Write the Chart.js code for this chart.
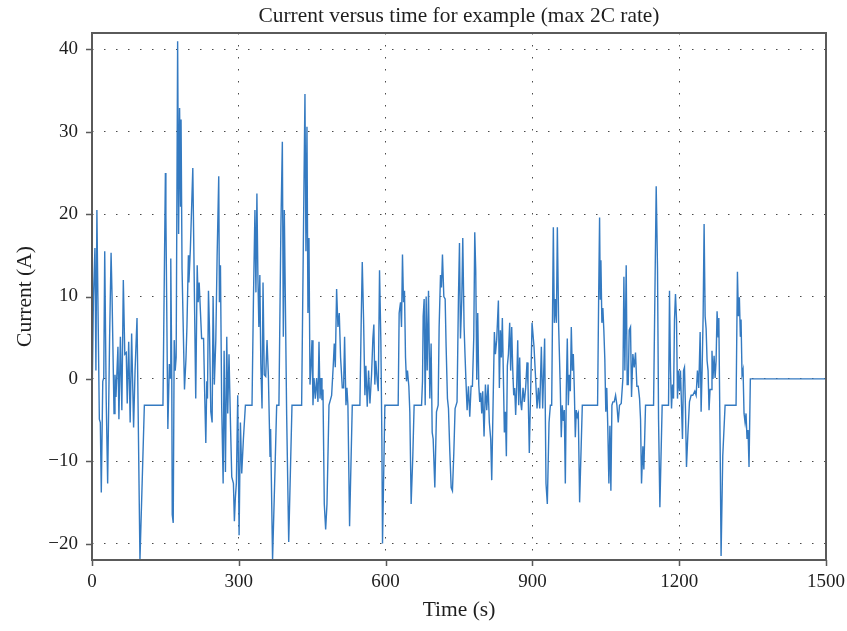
<!DOCTYPE html>
<html>
<head>
<meta charset="utf-8">
<script src="https://cdn.jsdelivr.net/npm/chart.js@4.4.1/dist/chart.umd.min.js"></script>
<style>
  html, body { margin: 0; padding: 0; background: #fff; }
  canvas { display: block; }
</style>
</head>
<body>
<canvas id="graph" width="847" height="631"></canvas>
<script>
// time (s) and current (A)
const tSec = [
  0, 3, 6, 8, 10, 12, 15, 17, 19, 22, 24, 26, 29, 32, 36, 39, 41, 45, 47, 49, 53, 55, 58, 61, 64, 67, 70, 72, 75, 78, 81, 85, 88, 92, 98, 107,
  145, 150, 151, 155, 158, 160, 161, 163, 164, 166, 168, 170, 172, 175, 177, 179, 181, 182, 184, 189, 192, 194, 197, 198, 201, 206, 212, 215, 217, 219,
  224, 228, 230.5, 232.6, 234.6, 236, 238, 240, 242.8, 245.5, 247.5, 250, 253, 255.7, 259, 260.4, 262.5, 265, 268, 270, 272.7, 275.4, 277.4, 280, 283, 285.6, 289, 291, 293, 295, 297.8, 300.6, 303.3, 306, 309.4, 313.5, 327,
  330, 333, 335, 337, 339, 341, 343, 345, 347.5, 349.5, 352, 355, 357.7, 360.4, 363.8, 365, 369, 374, 377.4, 382, 386, 389, 391, 393, 397.8, 402, 408.7, 428.4, 431.8, 435.2, 437.2, 439.3, 441.3, 443.4,
  445.5, 447.5, 449.6, 451.6, 453.7, 456.4, 459, 461.8, 463.9, 466, 468, 470, 472, 474.7, 477.5, 480.2, 484.3, 489.7, 493, 495.1, 497.2, 499.9, 502.6, 505.3, 508, 511.5, 514.2, 516.2, 519, 521, 523, 526.4, 531.9, 547.5,
  550.2, 552.3, 555, 557.7, 559.7, 562.5, 565.2, 568, 571.3, 574, 576, 578, 580, 582.9, 585, 587.6, 590.3, 592.4, 593.7, 598.5, 625.7,
  627.7, 630.5, 632.5, 634.5, 636.6, 638.6, 640.7, 642.7, 644.7, 647.5, 649.5, 652.2, 655.6, 658.3, 673.5,
  675.4, 676.8, 678.8, 680.9, 682.9, 685, 687.7, 690.4, 693, 695.2, 697.2, 700.6, 704, 707.4, 709.4, 712.2, 714.2, 716.2, 719, 721.7, 723.7, 726.4, 728.5, 731.2, 734, 736.6, 739.4, 742, 746,
  748.9, 751, 753, 755.7, 757.7, 760.4, 762.5, 764.5, 766.6, 769.3, 772, 774.7, 777.4, 780.2, 782.2, 784.2, 786.3, 788.3, 790.4, 792.4, 794.4, 796.5, 798.5, 801.2, 804, 806.7, 809.4, 812, 814.8, 816.9, 819.6,
  822.3, 824.4, 827, 830.5, 832.5, 834.6, 836.6, 838.6, 840.7, 842.7, 844.8, 846.8, 848.8, 851, 853.6, 855.6, 857.7, 859.7, 861.8, 863.8, 865.8, 867.9, 870, 872, 874, 876, 878, 880.8, 883.5, 886.2, 889, 891, 893.7,
  899.3, 903.3, 906, 909.5, 912.2, 915, 918.3, 921, 925, 927.8, 930.5, 934, 936.7, 939.4,
  942.8, 944.8, 946.9, 949, 951, 953.7, 957, 959, 961, 963.2, 965.2, 967.3, 969.3, 971.3, 973.4, 975.4, 977.5, 979.5, 981.5, 983.6, 985.6, 987.7, 989.7, 991.7, 993.8, 996.5, 1002, 1033.2,
  1035.3, 1037.3, 1038.7, 1040, 1042, 1044, 1046, 1048, 1050, 1052, 1054, 1056.3, 1058.4, 1060.4, 1062.5, 1064.5, 1067.2, 1070, 1072.7, 1075.4, 1078, 1081.5, 1085, 1087, 1089, 1091.7, 1093.7, 1095.8, 1097.8, 1100.5, 1102.6, 1105.3, 1108, 1110.7, 1113.5, 1116.2, 1119,
  1121, 1123, 1125.8, 1127.8, 1131.2, 1147.6, 1150.3, 1153, 1155.7, 1157.8, 1160.5, 1165.2, 1178.2,
  1180.2, 1182.2, 1184.3, 1186.3, 1188.4, 1190.4, 1192.4, 1194.5, 1196.5, 1198.6, 1200.6, 1202.6, 1204.7, 1206.7, 1208.8, 1210.8, 1212.8, 1214.9, 1217.6, 1221, 1224.4, 1227.8, 1231.9, 1234.6, 1237.3, 1240, 1242.8, 1244.8, 1246.8, 1248.9, 1250.9, 1253, 1255, 1257, 1259, 1261, 1263, 1265, 1267, 1269, 1271.3, 1273.4, 1275.4, 1277.4, 1279.5, 1281, 1283.6, 1285.6, 1289, 1293.8, 1316.2,
  1319, 1321, 1323, 1325, 1326.4, 1328.4, 1330.5, 1332.5, 1334.6, 1336.6, 1338.6, 1340.7, 1342.7, 1345.4, 1500
];
const currentA = [
  -3.2, 10, 15.9, 1, 20.5, 10, -4.9, -5.3, -13.8, -0.3, 0.1, 15.5, -2.4, -12.7, 5.1, 15.3, 10, -4.2, 0.5, -2.2, 3.9, -4.9, 5.1, -3.8, 12, 3, 3.2, -3, 4.5, -5.3, 5.5, -5.9, 1, 7.4, -22, -3.2,
  -3.2, 25, 20, -6.1, 1.8, 0.1, 14.6, 0.5, -16.5, -17.5, 4.7, 1, 2.6, 41, 17.6, 32.9, 20.9, 31.5, 13.4, -1.3, 2.4, 6.3, 15, 11.7, 15.7, 25.6, -2.4, 13.8, 9.3, 11.7,
  4.9, 4.9, -2.4, -7.8, -0.3, -2.4, 10.7, 6.3, -4, -5.3, 10, -0.7, 4.7, 14.9, 24.6, 9.3, 13.8, -3.2, -12.7, 3.4, -11.3, 5.1, -4.2, 3, -5.5, -11.9, -12.7, -17.3, -14.4, -12.7, -2, -19, -5.3, -11.5, -7.3, -3.2, -3.2,
  10, 20.5, 10.5, 22.5, 12.6, 6.3, 12.6, 1.8, -3.6, 11.7, 0.5, 0.3, 4.7, 0.5, -9.4, -6.1, -22, -11, -3.2, -3.2, 18.4, 28.8, 5.1, 20.5, -4.4, -19.8, -3.2, -3.2, 15.9, 34.6, 15.5, 30.6, 8, 17.1,
  -0.7, 1.6, 4.7, -3.2, 0.1, -2.4, 0.1, -2.8, 4.5, -2.4, 0.1, -2.6, -1.3, -15.2, -18.3, -15.2, -3.2, -2, 1.6, 4.3, 1.4, 10.9, 6.3, 8, 2.6, -1.1, -1.1, 5.1, -3.2, -1.1, -3.2, -17.9, -3.2, -3.2,
  7.2, 14.2, 7.2, -2, 1.6, -3.4, 1, -3, 0.5, 4.9, 6.6, -0.7, 2.2, -0.3, -1.5, 13.2, 4.7, -7.3, -20, -3.2, -3.2,
  8, 9.3, 6.3, 15.1, 9.3, 10.7, 2.6, -0.3, 1, -0.9, -4, -15.2, -9.4, -3.2, -3.2,
  -0.3, 7.6, 9.7, -3.2, 10, 1, 10.7, -2.4, 4.3, -6.5, -7.3, -13.2, -4, -3.2, 6.3, 12.6, 11.1, 15.1, 10, 9.7, 3.9, -2.4, -3.6, -8.8, -13.2, -13.6, -9, -3.6, -2.8,
  10, 16.5, 4.9, 9.7, 17.1, 6.3, 2.6, -0.7, -3.8, -0.9, -4.6, -0.9, -0.9, 5.1, 17.8, 13.2, -0.1, 8, -0.7, -2.8, -1.7, -4.2, -1.5, -7, -0.7, -3.8, -0.7, -5.3, -7.3, -12.3, -3.2,
  5.7, 3, 4.7, 9.5, -1.1, 5.9, 2.6, 7.4, 0.3, -6.5, -4, -9.4, 1.6, 3, 6.8, 1, 6.3, 1.4, -2, -1.1, -4.4, -0.9, 4.7, -3.2, 2.6, -2.8, -3.8, -1.1, -2.8, -1.1, 2, -0.7, -9,
  6.8, 3.9, 0.7, -3.6, -1.1, -3.6, 3.9, -3.6, 4.9, -12.7, -15.2, -5.3, -3.2, -3.2,
  18.4, 6.8, 9.7, 6.8, 18.4, 6.3, -1.1, -7.1, -3.2, -5.1, -3.8, -12.7, -1.5, 4.9, -3.2, 0.5, -1.5, 6.3, 1, 3, -1.1, -7.1, -3.8, -4.6, -4.2, -15, -3.2, -3.2,
  9.3, 19.6, 9.7, 14.4, 6.8, 8.6, 5.9, 2.4, -4, -1.1, -5.7, -12.7, -5.7, -13.6, -3.2, -2.8, -2.8, -2, -3.2, -5.3, -3.2, -3, 0.1, 12.4, 1, 13.8, -0.7, -0.7, 5.9, 6.3, -2.2, 3, 1.4, 3.2, -0.9, -0.9, -2.4,
  -4.9, -12.7, -8.2, -11, -3.2, -3.2, 10, 23.4, 13.4, -4.9, -15.6, -3.2, -3.2,
  10.7, 1, -3.6, -0.7, -2.4, 7.2, 10.3, 7.2, -2.4, 1, -1.5, 1, -3.2, -7.3, 1, 1.4, -3.6, -10.7, -6.9, -2.8, -2, -2, -1.5, -2, 1, -1.1, 5.7, -4, 1, 7.6, 18.8, 7.6, 6.1, 2.2, 1, -3.8, -1.3, -1.3, 3.4, 0, 2.8, 0.1, 2.2, 8.2, 5.1, 7.4, -7.8, -21.5, -9.4, -3.2, -3.2,
  13, 7.6, 9.9, 5.1, 7.2, 0.5, 1.1, -4.2, -5.3, -4.2, -7.3, -6.2, -10.7, 0, 0
];

const xTicks = [0, 300, 600, 900, 1200, 1500];
const yTicks = [-20, -10, 0, 10, 20, 30, 40];
const chartTitle = 'Current versus time for example (max 2C rate)';

const serif = "'Liberation Serif', 'DejaVu Serif', serif";
const ink = '#1e1e1e';
const frameColor = '#5a5a5a';
const dots = [1.5, 10.5];

// plain numbers, real minus sign, no thousands comma
const tickText = v => (v < 0 ? '\u2212' + Math.abs(v) : String(v));

// keep the scales from reserving extra room for their end labels
const noEdgePadding = s => { s.paddingLeft = 0; s.paddingRight = 0; s.paddingTop = 0; s.paddingBottom = 0; };

// title over the plot box, box round the plot, small outward tick marks
const frame = {
    id: 'frame',
    afterDraw(chart) {
        const { ctx, chartArea: a, scales: { x, y } } = chart;
        ctx.save();
        ctx.fillStyle = ink;
        ctx.font = '21.4px ' + serif;
        ctx.textAlign = 'center';
        ctx.textBaseline = 'middle';
        ctx.fillText(chartTitle, (a.left + a.right) / 2, 16);

        ctx.strokeStyle = frameColor;
        ctx.lineWidth = 1.5;
        ctx.beginPath();
        xTicks.forEach(v => {
            const px = Math.round(x.getPixelForValue(v)) + 0.5;
            ctx.moveTo(px, a.bottom);
            ctx.lineTo(px, a.bottom + 6);
        });
        yTicks.forEach(v => {
            const py = Math.round(y.getPixelForValue(v)) + 0.5;
            ctx.moveTo(a.left - 6, py);
            ctx.lineTo(a.left, py);
        });
        ctx.stroke();
        ctx.lineWidth = 2;
        ctx.strokeRect(a.left, a.top, a.right - a.left, a.bottom - a.top);
        ctx.restore();
    }
};

const data = {
    datasets: [{
        label: 'Current',
        data: tSec.map((t, i) => ({ x: t, y: currentA[i] })),
        borderColor: 'rgb(52, 122, 193)',
        borderWidth: 1.4,
        pointRadius: 0,
        tension: 0,
        fill: false
    }]
};

const config = {
    type: 'line',
    data: data,
    options: {
        responsive: false,
        animation: false,
        layout: { padding: { left: 0, right: 21, top: 33, bottom: 0 } },
        plugins: {
            legend: { display: false },
            tooltip: { enabled: false },
            title: { display: false }
        },
        scales: {
            x: {
                type: 'linear',
                min: 0,
                max: 1500,
                afterBuildTicks: s => { s.ticks = xTicks.map(v => ({ value: v })); },
                afterFit: s => { s.height = 71; noEdgePadding(s); },
                grid: { drawTicks: false, color: '#4a4a4a', lineWidth: 1, borderDash: dots },
                border: { display: false, dash: dots },
                ticks: { padding: 11, color: ink, autoSkip: false, maxRotation: 0, callback: tickText, font: { family: serif, size: 19 } },
                title: { display: true, text: 'Time (s)', color: ink, font: { family: serif, size: 21.5 }, padding: { top: 0, bottom: 8 } }
            },
            y: {
                min: -22,
                max: 42,
                afterBuildTicks: s => { s.ticks = yTicks.map(v => ({ value: v })); },
                afterFit: s => { s.width = 92; noEdgePadding(s); },
                grid: { drawTicks: false, color: '#4a4a4a', lineWidth: 1, borderDash: dots },
                border: { display: false, dash: dots },
                ticks: { padding: 14, color: ink, autoSkip: false, callback: tickText, font: { family: serif, size: 19 } },
                title: { display: true, text: 'Current (A)', color: ink, font: { family: serif, size: 21.5 }, padding: { top: 12, bottom: 0 } }
            }
        }
    },
    plugins: [frame]
};

const graph = new Chart(document.getElementById('graph'), config);
</script>
</body>
</html>
